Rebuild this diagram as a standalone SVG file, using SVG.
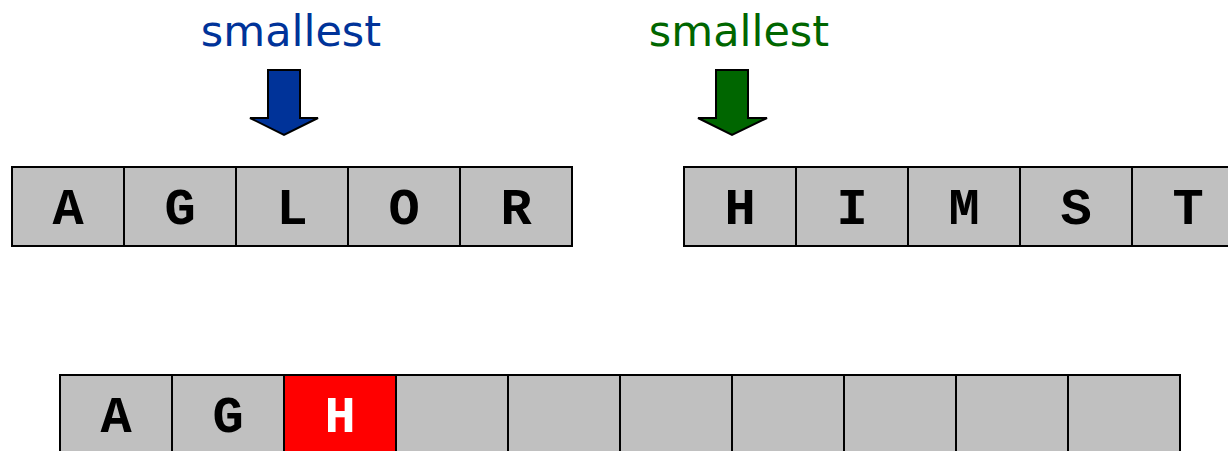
<svg xmlns="http://www.w3.org/2000/svg" width="1228" height="451" viewBox="0 0 1228 451">
<style>
.cell{fill:#c0c0c0;stroke:#000;stroke-width:2}
.hl{fill:#ff0000;stroke:#000;stroke-width:2}
.ch{font-family:"Liberation Mono","Courier New",monospace;font-weight:bold;font-size:52px;text-anchor:middle;fill:#000}
.lbl{font-family:"Comic Sans MS","DejaVu Sans",sans-serif;font-size:43px;text-anchor:middle}
.arrow{stroke:#000;stroke-width:2}
</style>
<rect width="1228" height="451" fill="#fff"/>
<g id="label-left">
<text class="lbl" x="291" y="46" fill="#003399">smallest</text>
<polygon class="arrow" fill="#003399" points="268,70 300,70 300,118 318,118 284,135 250,118 268,118"/>
</g>
<g id="label-right">
<text class="lbl" x="739" y="46" fill="#006600">smallest</text>
<polygon class="arrow" fill="#006600" points="716,70 748,70 748,118 767,118 732,135 698,118 716,118"/>
</g>
<g id="array-left">
<rect class="cell" x="12" y="167" width="112" height="79"/><text class="ch" x="68" y="224">A</text>
<rect class="cell" x="124" y="167" width="112" height="79"/><text class="ch" x="180" y="224">G</text>
<rect class="cell" x="236" y="167" width="112" height="79"/><text class="ch" x="292" y="224">L</text>
<rect class="cell" x="348" y="167" width="112" height="79"/><text class="ch" x="404" y="224">O</text>
<rect class="cell" x="460" y="167" width="112" height="79"/><text class="ch" x="516" y="224">R</text>
</g>
<g id="array-right">
<rect class="cell" x="684" y="167" width="112" height="79"/><text class="ch" x="740" y="224">H</text>
<rect class="cell" x="796" y="167" width="112" height="79"/><text class="ch" x="852" y="224">I</text>
<rect class="cell" x="908" y="167" width="112" height="79"/><text class="ch" x="964" y="224">M</text>
<rect class="cell" x="1020" y="167" width="112" height="79"/><text class="ch" x="1076" y="224">S</text>
<rect class="cell" x="1132" y="167" width="112" height="79"/><text class="ch" x="1188" y="224">T</text>
</g>
<g id="array-merged">
<rect class="cell" x="60" y="375" width="112" height="90"/><text class="ch" x="116" y="432">A</text>
<rect class="cell" x="172" y="375" width="112" height="90"/><text class="ch" x="228" y="432">G</text>
<rect class="hl" x="284" y="375" width="112" height="90"/><text class="ch" x="340" y="432" style="fill:#fff">H</text>
<rect class="cell" x="396" y="375" width="112" height="90"/>
<rect class="cell" x="508" y="375" width="112" height="90"/>
<rect class="cell" x="620" y="375" width="112" height="90"/>
<rect class="cell" x="732" y="375" width="112" height="90"/>
<rect class="cell" x="844" y="375" width="112" height="90"/>
<rect class="cell" x="956" y="375" width="112" height="90"/>
<rect class="cell" x="1068" y="375" width="112" height="90"/>
</g>
<g id="connectors"></g>
</svg>
